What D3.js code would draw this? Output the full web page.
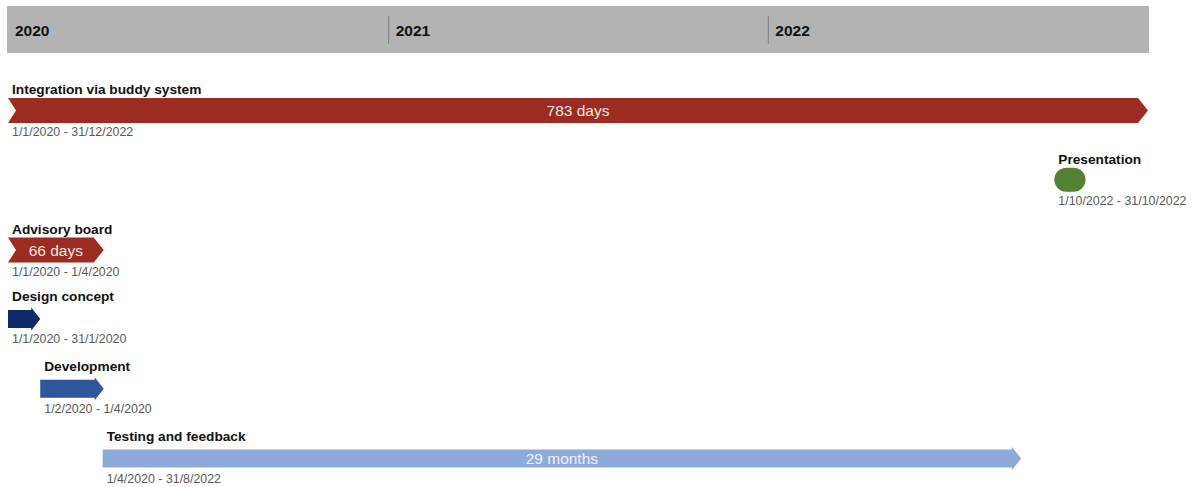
<!DOCTYPE html>
<html>
<head>
<meta charset="utf-8">
<script src="https://cdn.jsdelivr.net/npm/d3@7"></script>
<style>
  html, body { margin: 0; padding: 0; background: #ffffff; }
  svg { display: block; font-family: "Liberation Sans", Arial, sans-serif; }
</style>
</head>
<body>
<svg id="chart" width="1194" height="487"></svg>
<script>
// Project timeline data
const taskNames  = ["Integration via buddy system", "Presentation", "Advisory board", "Design concept", "Development", "Testing and feedback"];
const taskStarts = ["2020-01-01", "2022-10-01", "2020-01-01", "2020-01-01", "2020-02-01", "2020-04-01"];
const taskEnds   = ["2022-12-31", "2022-10-31", "2020-04-01", "2020-01-31", "2020-04-01", "2022-08-31"];
const dateLabels = ["1/1/2020 - 31/12/2022", "1/10/2022 - 31/10/2022", "1/1/2020 - 1/4/2020", "1/1/2020 - 31/1/2020", "1/2/2020 - 1/4/2020", "1/4/2020 - 31/8/2022"];
const barLabels  = ["783 days", "", "66 days", "", "", "29 months"];
const yearTicks  = ["2020", "2021", "2022"];

// Drawing style per task
const taskColors = ["#9c2b21", "#548235", "#9c2b21", "#0f2a6b", "#2f559b", "#8eaadb"];
const taskShapes = ["chevron", "pill", "chevron", "arrow", "arrow", "arrow"];
const labelColors = ["#f4e6e3", "#ffffff", "#f4e6e3", "#ffffff", "#ffffff", "#eef2fb"];

const parse = d3.timeParse("%Y-%m-%d");
const svg = d3.select("#chart");

const x = d3.scaleTime()
  .domain([parse("2020-01-01"), parse("2023-01-01")])
  .range([8, 1148]);

const rows = d3.scalePoint()
  .domain(taskNames)
  .range([98, 447]);

// Header band with year marks
svg.append("rect")
  .attr("x", 7).attr("y", 6)
  .attr("width", 1142).attr("height", 47)
  .attr("fill", "#b3b3b3");

const years = yearTicks.map(y => parse(y + "-01-01"));
svg.selectAll("line.year")
  .data(years.slice(1))
  .join("line")
  .attr("class", "year")
  .attr("x1", d => x(d)).attr("x2", d => x(d))
  .attr("y1", 16).attr("y2", 44)
  .attr("stroke", "#7f7f7f").attr("stroke-width", 1);

svg.selectAll("text.year")
  .data(years)
  .join("text")
  .attr("class", "year")
  .attr("x", d => x(d) + 7)
  .attr("y", 36)
  .attr("font-size", 15.5)
  .attr("font-weight", "bold")
  .attr("fill", "#111")
  .text(d => d3.timeFormat("%Y")(d));

// Task geometry
const tasks = taskNames.map((name, i) => {
  const s = parse(taskStarts[i]);
  const e = d3.timeDay.offset(parse(taskEnds[i]), 1);
  return {
    name, i,
    x0: x(s), x1: x(e),
    top: rows(name),
    shape: taskShapes[i],
    color: taskColors[i],
    label: barLabels[i],
    labelColor: labelColors[i],
    dates: dateLabels[i]
  };
});

const heights = { chevron: 25, pill: 24, arrow: 23 };

function shapePath(t) {
  const h = heights[t.shape];
  const y0 = t.top, y1 = t.top + h, ym = t.top + h / 2;
  if (t.shape === "chevron") {
    const d = 10, n = 8;
    return `M${t.x0},${y0}L${t.x1 - d},${y0}L${t.x1},${ym}L${t.x1 - d},${y1}L${t.x0},${y1}L${t.x0 + n},${ym}Z`;
  }
  if (t.shape === "arrow") {
    const d = 9, f = 2.5;
    return `M${t.x0},${y0 + f}L${t.x1 - d},${y0 + f}L${t.x1 - d},${y0}L${t.x1},${ym}` +
           `L${t.x1 - d},${y1}L${t.x1 - d},${y1 - f}L${t.x0},${y1 - f}Z`;
  }
  return null;
}

const g = svg.selectAll("g.task")
  .data(tasks)
  .join("g")
  .attr("class", "task");

g.filter(d => d.shape !== "pill")
  .append("path")
  .attr("d", shapePath)
  .attr("fill", d => d.color);

g.filter(d => d.shape === "pill")
  .append("rect")
  .attr("x", d => d.x0 + 2)
  .attr("y", d => d.top)
  .attr("width", d => d.x1 - d.x0 - 1)
  .attr("height", d => heights[d.shape])
  .attr("rx", 12).attr("ry", 12)
  .attr("fill", d => d.color);

// Task titles above the bars
g.append("text")
  .attr("x", d => d.x0 + (d.shape === "pill" ? 6 : 4))
  .attr("y", d => d.top - (d.shape === "arrow" ? 6 : 4))
  .attr("font-size", 13.7)
  .attr("font-weight", "bold")
  .attr("fill", "#111")
  .text(d => d.name);

// Duration labels inside the bars
g.filter(d => d.label)
  .append("text")
  .attr("x", d => (d.x0 + d.x1) / 2)
  .attr("y", d => d.top + heights[d.shape] / 2 + 5.5)
  .attr("text-anchor", "middle")
  .attr("font-size", 15.5)
  .attr("fill", d => d.labelColor)
  .text(d => d.label);

// Date ranges under the bars
g.append("text")
  .attr("x", d => d.x0 + (d.shape === "pill" ? 6 : 4))
  .attr("y", d => d.top + heights[d.shape] + 13)
  .attr("font-size", 12.4)
  .attr("fill", "#595959")
  .text(d => d.dates);
</script>
</body>
</html>
